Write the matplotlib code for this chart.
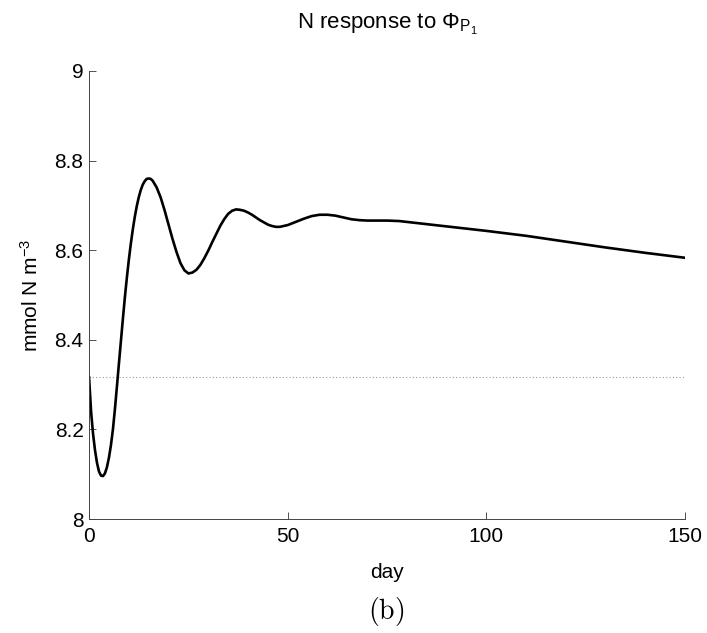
import numpy as np
import matplotlib
matplotlib.use("Agg")
import matplotlib.pyplot as plt

plt.rcParams['font.family'] = ['Liberation Sans', 'DejaVu Sans']
plt.rcParams['mathtext.fontset'] = 'custom'
plt.rcParams['mathtext.rm'] = 'Liberation Sans'
plt.rcParams['mathtext.it'] = 'Liberation Sans:italic'

# N response (mmol N m^-3)
day = [0, 0.5, 1, 1.5, 2, 2.5, 3, 3.5, 4, 4.5, 5, 5.5, 6, 6.5, 7, 7.5, 8, 8.5,
       9, 9.5, 10, 10.5, 11, 11.5, 12, 12.5, 13, 13.5, 14, 14.5, 15, 15.5, 16,
       17, 18, 19, 20, 21, 22, 23, 24, 25, 26, 27, 28, 29, 30, 31, 32, 33, 34,
       35, 36, 37, 38, 39, 40, 41, 42, 43, 44, 45, 46, 47, 48, 50, 52, 54, 56,
       58, 60, 62, 64, 66, 68, 70, 72, 75, 78, 80, 85, 90, 95, 100, 110, 120,
       130, 140, 150]
nconc = [8.316, 8.240, 8.190, 8.153, 8.125, 8.106, 8.097, 8.096, 8.102, 8.116,
         8.137, 8.165, 8.200, 8.245, 8.295, 8.346, 8.396, 8.446, 8.494, 8.538,
         8.578, 8.614, 8.646, 8.674, 8.698, 8.718, 8.734, 8.746, 8.754, 8.759,
         8.760, 8.759, 8.755, 8.740, 8.718, 8.689, 8.657, 8.625, 8.596, 8.571,
         8.555, 8.548, 8.550, 8.556, 8.567, 8.582, 8.599, 8.618, 8.636, 8.654,
         8.669, 8.681, 8.688, 8.691, 8.690, 8.688, 8.684, 8.679, 8.673, 8.667,
         8.662, 8.657, 8.654, 8.652, 8.652, 8.656, 8.663, 8.670, 8.676, 8.679,
         8.679, 8.677, 8.673, 8.669, 8.667, 8.666, 8.666, 8.666, 8.665, 8.663,
         8.658, 8.653, 8.648, 8.643, 8.632, 8.619, 8.606, 8.594, 8.583]
n_init = 8.316

fig = plt.figure(figsize=(7.07, 6.33), dpi=100)
ax = fig.add_axes([0.126, 0.180, 0.843, 0.708])

ax.axhline(n_init, color='#999999', ls=(0, (1, 2)), lw=0.8)
ax.plot(day, nconc, color='black', lw=1.9)

ax.set_xlim(0, 150)
ax.set_ylim(8, 9)
ax.set_xticks([0, 50, 100, 150])
ax.set_yticks([8, 8.2, 8.4, 8.6, 8.8, 9])
ax.set_yticklabels(['8', '8.2', '8.4', '8.6', '8.8', '9'])
ax.tick_params(direction='in', labelsize=15, length=5, width=0.6,
               color='#333333', pad=4)
ax.tick_params(axis='x', pad=6)
for s in ['top', 'right']:
    ax.spines[s].set_visible(False)
for s in ['left', 'bottom']:
    ax.spines[s].set_color('#444444')
    ax.spines[s].set_linewidth(0.7)

ax.set_xlabel('day', fontsize=15, labelpad=12)
ax.set_ylabel(r'mmol N m$^{-3}$', fontsize=15, labelpad=9)
ax.set_title(r'N response to $\Phi_{\mathrm{P}_{1}}$', fontsize=16, pad=30)

fig.text(0.546, 0.022, r'$\mathrm{(b)}$', math_fontfamily='cm', fontsize=20,
         ha='center')

fig.savefig('out.png', dpi=100)
